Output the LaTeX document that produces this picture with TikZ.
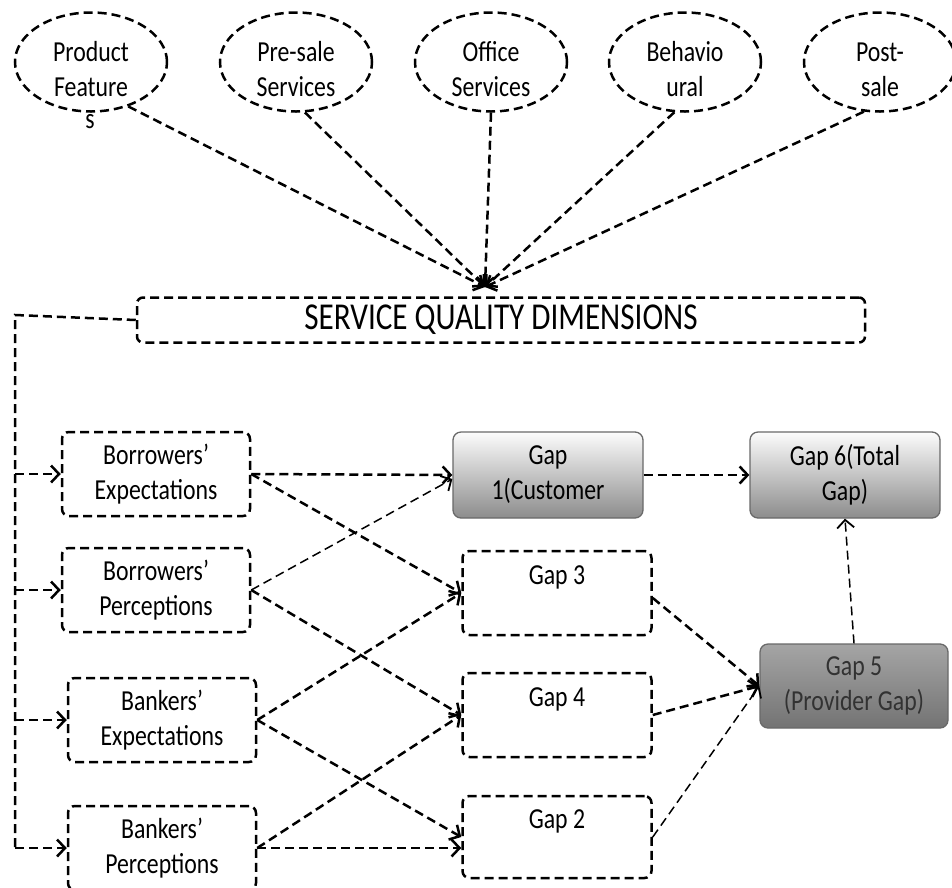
\documentclass[tikz,border=0pt]{standalone}
\usepackage{fontspec}
\setmainfont{Carlito}[FakeStretch=0.82]
\usetikzlibrary{arrows.meta, shapes.geometric, calc}
\definecolor{gline} {RGB}{105,105,105}
\definecolor{gtop}  {RGB}{252,252,252}
\definecolor{gbot}  {RGB}{140,140,140}
\definecolor{dtop}  {RGB}{165,165,165}
\definecolor{dbot}  {RGB}{115,115,115}
\definecolor{dtext} {RGB}{50,50,50}
\newcommand{\lowtop}{\rule{0pt}{34pt}}

\tikzset{
  dashline/.style={line width=2.5pt, dash pattern=on 9pt off 5pt},
  txt/.style={font=\fontsize{29}{35}\selectfont, align=center},
  bubble/.style={ellipse, draw, dashline, txt, inner sep=0pt,
                 minimum width=152pt, minimum height=99pt},
  inbox/.style={draw, dashline, txt, rounded corners=7pt,
                minimum width=188pt, minimum height=84pt},
  shadedbox/.style={draw=gline, line width=1.3pt, txt, rounded corners=8pt,
                    top color=gtop, bottom color=gbot,
                    minimum width=190pt, minimum height=86pt},
  link/.style={dashline, -{Straight Barb[length=8pt,width=17pt,line width=2.5pt]}},
  thinlink/.style={dashline, line width=1.5pt,
                   -{Straight Barb[length=8pt,width=17pt,line width=1.8pt]}},
}

\begin{document}
\begin{tikzpicture}[x=1pt, y=-1pt]
  \useasboundingbox (0,0) rectangle (952,887);

  % service quality dimensions
  \node[bubble] (pf)  at (91,62)  {\lowtop Product\\Feature};
  \node[txt]    (pfs) at (90,122) {s};
  \node[bubble] (ps)  at (296,62) {\lowtop Pre-sale\\Services};
  \node[bubble] (os)  at (491,62) {\lowtop Office\\Services};
  \node[bubble] (bh)  at (685,62) {\lowtop Behavio\\ural};
  \node[bubble] (pst) at (880,62) {\lowtop Post-\\sale};

  \node[draw, dashline, rounded corners=6pt, minimum width=728pt,
        minimum height=45pt, font=\fontsize{38}{40}\selectfont]
        (sqd) at (501,320) {SERVICE QUALITY DIMENSIONS};
  \coordinate (hub) at (485,287);

  \draw[link] (pf.-50) -- (hub);
  \draw[link] (ps.-80) -- (hub);
  \draw[link] (os.south) -- (hub);
  \draw[link] (bh.-102) -- (hub);
  \draw[link] (pst.-108) -- (hub);

  % expectations and perceptions
  \node[inbox] (be)  at (156,474) {Borrowers’\\Expectations};
  \node[inbox] (bp)  at (156,590) {Borrowers’\\Perceptions};
  \node[inbox] (bae) at (162,720) {Bankers’\\Expectations};
  \node[inbox] (bap) at (162,848) {Bankers’\\Perceptions};

  \coordinate (trunk) at (15,315);
  \draw[dashline] (sqd.west) -- (trunk) -- (trunk |- bap.west);
  \foreach \b in {be,bp,bae,bap}
    \draw[link] (trunk |- \b.west) -- (\b.west);

  % gaps
  \node[shadedbox] (gap1) at (548,475) {Gap\\1(Customer};
  \node[shadedbox] (gap6) at (845,475) {Gap 6(Total\\Gap)};
  \node[inbox, minimum width=189pt] (gap3) at (557,593) {Gap 3\\~};
  \node[inbox, minimum width=189pt] (gap4) at (557,715) {Gap 4\\~};
  \node[inbox, minimum width=189pt, minimum height=82pt]
        (gap2) at (557,837) {Gap 2\\~};
  \node[shadedbox, top color=dtop, bottom color=dbot, text=dtext,
        minimum width=188pt, minimum height=84pt]
        (gap5) at (854,686) {Gap 5\\(Provider Gap)};

  \draw[link] (be.east) -- (gap1.west);
  \draw[link] (be.east) -- (gap3.west);
  \draw[thinlink] (bp.east) -- ($(gap1.west)+(0,4)$);
  \draw[link] (bp.east) -- (gap4.west);
  \draw[link] (bae.east) -- (gap3.west);
  \draw[link] (bae.east) -- (gap2.west);
  \draw[link] (bap.east) -- (gap4.west);
  \draw[link] (bap.east) -- (bap.east -| gap2.west);

  \draw[link] (gap1.east) -- (gap6.west);
  \draw[link] ($(gap3.east)+(0,5)$) -- (gap5.west);
  \draw[link] (gap4.east) -- (gap5.west);
  \draw[thinlink] (gap2.east) -- (gap5.west);
  \draw[thinlink] (gap5.north) -- (gap6.south);
\end{tikzpicture}
\end{document}
